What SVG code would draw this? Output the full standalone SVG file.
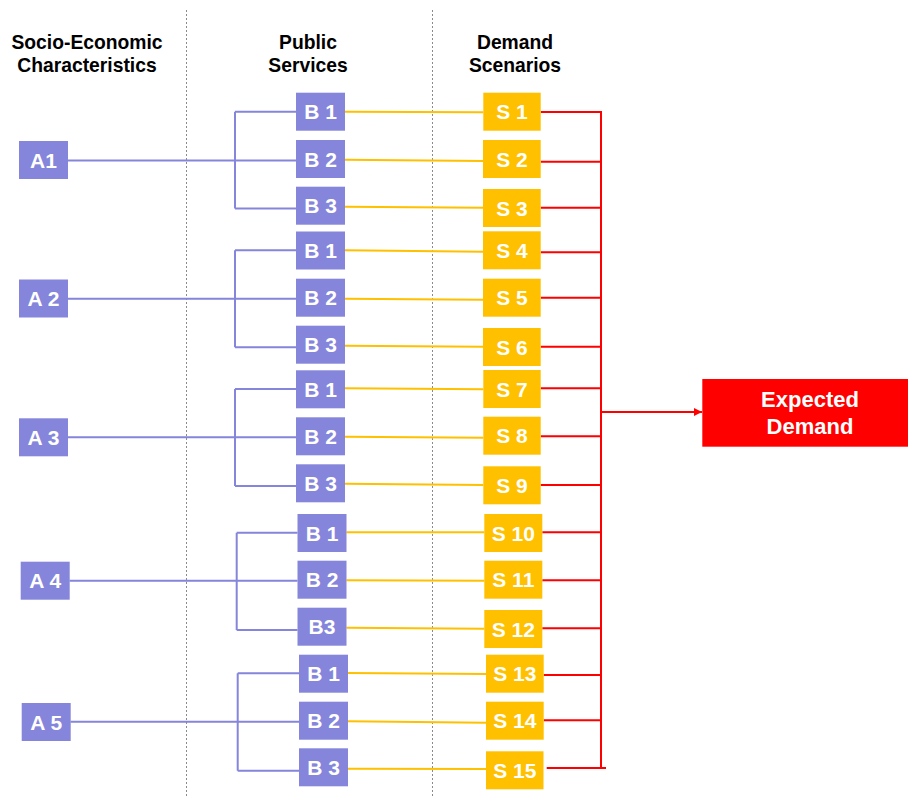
<svg xmlns="http://www.w3.org/2000/svg" width="908" height="796" viewBox="0 0 908 796">
<defs>
<style>
.head{font-family:"Liberation Sans",Arial,sans-serif;font-weight:bold;font-size:19.3px;fill:#000;text-anchor:middle}
.lbl{font-family:"Liberation Sans",Arial,sans-serif;font-weight:bold;font-size:21px;fill:#fff;text-anchor:middle}
.big{font-family:"Liberation Sans",Arial,sans-serif;font-weight:bold;font-size:22px;fill:#fff;text-anchor:middle}
.a,.b{fill:#8585DC}
.s{fill:#FFC000}
.blue{stroke:#8585DC;stroke-width:2;fill:none}
.yel{stroke:#FFC000;stroke-width:2;fill:none}
.red{stroke:#FF0000;stroke-width:2;fill:none}
.dot{stroke:#8a8a8a;stroke-width:1;stroke-dasharray:2 2;fill:none}
</style>
<marker id="arr" viewBox="0 0 8 8" refX="8" refY="4" markerWidth="4" markerHeight="4" markerUnits="strokeWidth" orient="auto">
<path d="M0,0 L8,4 L0,8 Z" fill="#FF0000"/>
</marker>
</defs>
<rect width="908" height="796" fill="#fff"/>
<g id="dividers">
<line class="dot" x1="186.5" y1="10" x2="186.5" y2="796"/>
<line class="dot" x1="432.5" y1="10" x2="432.5" y2="796"/>
</g>
<g id="headings">
<text class="head" x="87" y="48.5">Socio-Economic</text>
<text class="head" x="87" y="71.5">Characteristics</text>
<text class="head" x="308" y="48.5">Public</text>
<text class="head" x="308" y="71.5">Services</text>
<text class="head" x="515" y="48.5">Demand</text>
<text class="head" x="515" y="71.5">Scenarios</text>
</g>
<g id="connectors">
<!-- blue -->
<path class="blue" d="M68,160.5 H296 M235,111.7 V208.5 M235,111.7 H296 M235,208.5 H296"/>
<path class="blue" d="M68,298.7 H296 M235,250.3 V347.3 M235,250.3 H296 M235,347.3 H296"/>
<path class="blue" d="M68,437.3 H296 M235,389 V486 M235,389 H296 M235,486 H296"/>
<path class="blue" d="M69.5,580.7 H297.5 M236.7,532.7 V630 M236.7,532.7 H297.5 M236.7,630 H297.5"/>
<path class="blue" d="M70.5,721.7 H299 M237.7,673.3 V770.7 M237.7,673.3 H299 M237.7,770.7 H299"/>
<!-- yellow -->
<line class="yel" x1="345" y1="111.7" x2="483.3" y2="112.3"/>
<line class="yel" x1="345" y1="159.7" x2="483" y2="161"/>
<line class="yel" x1="345" y1="206.7" x2="483" y2="207.7"/>
<line class="yel" x1="345" y1="250.3" x2="483" y2="251.7"/>
<line class="yel" x1="345" y1="298.7" x2="483" y2="299.7"/>
<line class="yel" x1="345" y1="345.7" x2="483" y2="346.7"/>
<line class="yel" x1="345" y1="388.3" x2="483.3" y2="389.3"/>
<line class="yel" x1="345" y1="436.7" x2="483.3" y2="437.7"/>
<line class="yel" x1="345" y1="483.7" x2="483.3" y2="485"/>
<line class="yel" x1="346.5" y1="532.3" x2="484.3" y2="532.3"/>
<line class="yel" x1="346.5" y1="580.3" x2="484.3" y2="580.8"/>
<line class="yel" x1="346.5" y1="627.7" x2="484.3" y2="628.7"/>
<line class="yel" x1="348" y1="673" x2="486" y2="674"/>
<line class="yel" x1="348" y1="721.3" x2="486" y2="722.7"/>
<line class="yel" x1="348" y1="768.7" x2="486" y2="769"/>
<!-- red -->
<path class="red" d="M540.7,112 H601 M540.7,161.7 H601 M540.7,207.7 H601 M540.7,252.3 H601 M540.7,297.7 H601 M540.7,346.7 H601 M540.7,388.3 H601 M540.7,436.3 H601 M540.7,485 H601 M542.3,532.3 H601 M542.3,580.3 H601 M542.3,628.3 H601 M543.7,675 H601 M543.7,720.3 H601 M546.7,768 H606"/>
<line class="red" x1="601" y1="111" x2="601" y2="769"/>
<line class="red" x1="601" y1="412" x2="702" y2="412" marker-end="url(#arr)"/>
</g>
<g id="A1"><rect class="a" x="19" y="141" width="49" height="38"/><text class="lbl" x="43.5" y="167.5">A1</text></g>
<g id="A2"><rect class="a" x="19" y="279.5" width="49" height="38"/><text class="lbl" x="43.5" y="306">A 2</text></g>
<g id="A3"><rect class="a" x="19" y="418.3" width="49" height="38"/><text class="lbl" x="43.5" y="444.8">A 3</text></g>
<g id="A4"><rect class="a" x="20.7" y="561.7" width="49" height="38"/><text class="lbl" x="45.2" y="588.2">A 4</text></g>
<g id="A5"><rect class="a" x="21.7" y="703" width="49" height="38"/><text class="lbl" x="46.2" y="729.5">A 5</text></g>

<g id="B1-1"><rect class="b" x="296" y="92.7" width="49" height="38"/><text class="lbl" x="320.5" y="119.2">B 1</text></g>
<g id="B2-1"><rect class="b" x="296" y="140" width="49" height="38"/><text class="lbl" x="320.5" y="166.5">B 2</text></g>
<g id="B3-1"><rect class="b" x="296" y="186.7" width="49" height="38"/><text class="lbl" x="320.5" y="213.2">B 3</text></g>
<g id="B1-2"><rect class="b" x="296" y="231.5" width="49" height="38"/><text class="lbl" x="320.5" y="258">B 1</text></g>
<g id="B2-2"><rect class="b" x="296" y="278.7" width="49" height="38"/><text class="lbl" x="320.5" y="305.2">B 2</text></g>
<g id="B3-2"><rect class="b" x="296" y="325.7" width="49" height="38"/><text class="lbl" x="320.5" y="352.2">B 3</text></g>
<g id="B1-3"><rect class="b" x="296" y="370.3" width="49" height="38"/><text class="lbl" x="320.5" y="396.8">B 1</text></g>
<g id="B2-3"><rect class="b" x="296" y="417.3" width="49" height="38"/><text class="lbl" x="320.5" y="443.8">B 2</text></g>
<g id="B3-3"><rect class="b" x="296" y="464.3" width="49" height="38"/><text class="lbl" x="320.5" y="490.8">B 3</text></g>
<g id="B1-4"><rect class="b" x="297.5" y="514" width="49" height="38"/><text class="lbl" x="322" y="540.5">B 1</text></g>
<g id="B2-4"><rect class="b" x="297.5" y="560.7" width="49" height="38"/><text class="lbl" x="322" y="587.2">B 2</text></g>
<g id="B3-4"><rect class="b" x="297.5" y="607.7" width="49" height="38"/><text class="lbl" x="322" y="634.2">B3</text></g>
<g id="B1-5"><rect class="b" x="299" y="654.7" width="49" height="38"/><text class="lbl" x="323.5" y="681.2">B 1</text></g>
<g id="B2-5"><rect class="b" x="299" y="701.7" width="49" height="38"/><text class="lbl" x="323.5" y="728.2">B 2</text></g>
<g id="B3-5"><rect class="b" x="299" y="748.3" width="49" height="38"/><text class="lbl" x="323.5" y="774.8">B 3</text></g>

<g id="S1"><rect class="s" x="483.3" y="92.7" width="57.4" height="38"/><text class="lbl" x="512" y="119.2">S 1</text></g>
<g id="S2"><rect class="s" x="483" y="140" width="57.7" height="38"/><text class="lbl" x="512" y="166.5">S 2</text></g>
<g id="S3"><rect class="s" x="483" y="189" width="57.7" height="38"/><text class="lbl" x="512" y="215.5">S 3</text></g>
<g id="S4"><rect class="s" x="483" y="231.3" width="57.7" height="38"/><text class="lbl" x="512" y="257.8">S 4</text></g>
<g id="S5"><rect class="s" x="483" y="278.7" width="57.7" height="38"/><text class="lbl" x="512" y="305.2">S 5</text></g>
<g id="S6"><rect class="s" x="483" y="328" width="57.7" height="38"/><text class="lbl" x="512" y="354.5">S 6</text></g>
<g id="S7"><rect class="s" x="483.3" y="370" width="57.4" height="38"/><text class="lbl" x="512" y="396.5">S 7</text></g>
<g id="S8"><rect class="s" x="483.3" y="416.7" width="57.4" height="38"/><text class="lbl" x="512" y="443.2">S 8</text></g>
<g id="S9"><rect class="s" x="483.3" y="466.3" width="57.4" height="38"/><text class="lbl" x="512" y="492.8">S 9</text></g>
<g id="S10"><rect class="s" x="484.3" y="514" width="58" height="38"/><text class="lbl" x="513.3" y="540.5">S 10</text></g>
<g id="S11"><rect class="s" x="484.3" y="560.7" width="58" height="38"/><text class="lbl" x="513.3" y="587.2">S 11</text></g>
<g id="S12"><rect class="s" x="484.3" y="610" width="58" height="38"/><text class="lbl" x="513.3" y="636.5">S 12</text></g>
<g id="S13"><rect class="s" x="486" y="654.7" width="57.7" height="38"/><text class="lbl" x="514.8" y="681.2">S 13</text></g>
<g id="S14"><rect class="s" x="486" y="701.7" width="57.7" height="38"/><text class="lbl" x="514.8" y="728.2">S 14</text></g>
<g id="S15"><rect class="s" x="486" y="751.3" width="57.5" height="38"/><text class="lbl" x="514.8" y="777.8">S 15</text></g>

<g id="expected-demand"><rect x="702.3" y="379" width="216" height="67.7" fill="#FF0000"/><text class="big" x="810" y="406.7">Expected</text><text class="big" x="810" y="434">Demand</text></g>
</svg>
